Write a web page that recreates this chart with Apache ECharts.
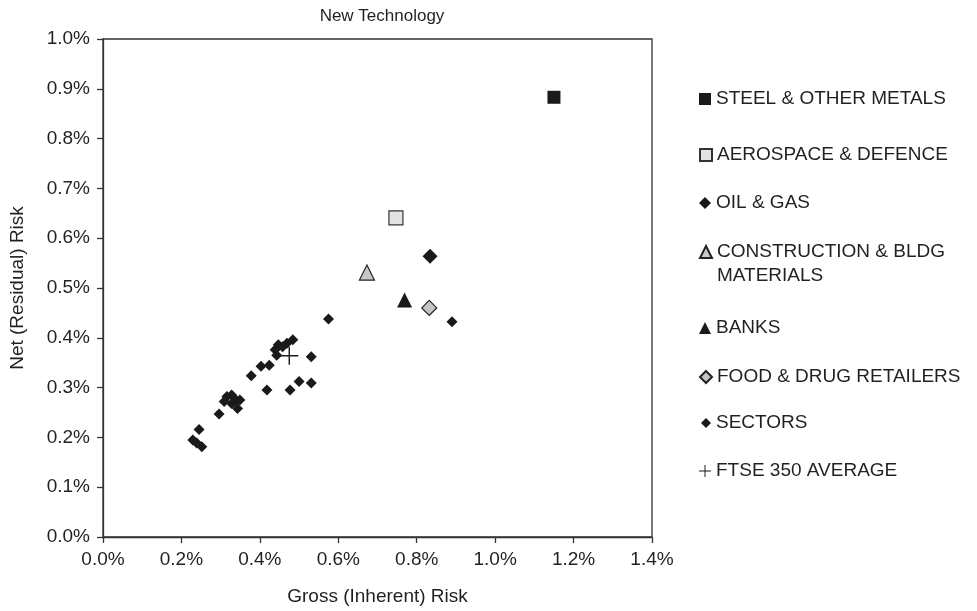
<!DOCTYPE html>
<html><head><meta charset="utf-8">
<script src="https://cdn.jsdelivr.net/npm/echarts@6/dist/echarts.min.js"></script>
<style>html,body{margin:0;padding:0;background:#fff}#c{width:977px;height:611px}</style>
</head><body><div id="c"></div>
<script>
// Values in percent
var xTicks = [0.0, 0.2, 0.4, 0.6, 0.8, 1.0, 1.2, 1.4];
var yTicks = [0.0, 0.1, 0.2, 0.3, 0.4, 0.5, 0.6, 0.7, 0.8, 0.9, 1.0];
var seriesNames = ['STEEL & OTHER METALS','AEROSPACE & DEFENCE','OIL & GAS','CONSTRUCTION & BLDG\nMATERIALS','BANKS','FOOD & DRUG RETAILERS','SECTORS','FTSE 350 AVERAGE'];
var steel = [[1.15, 0.883]];
var aerospace = [[0.747, 0.641]];
var oilGas = [[0.834, 0.564]];
var construction = [[0.673, 0.531]];
var banks = [[0.769, 0.476]];
var food = [[0.832, 0.460]];
var sectors = [
  [0.575,0.438],[0.484,0.396],[0.469,0.389],[0.447,0.386],[0.458,0.382],[0.439,0.376],[0.443,0.365],
  [0.531,0.362],[0.424,0.345],[0.403,0.343],[0.378,0.324],[0.418,0.295],[0.477,0.295],[0.500,0.312],
  [0.531,0.309],[0.316,0.282],[0.328,0.285],[0.309,0.272],[0.339,0.275],[0.349,0.275],[0.343,0.258],
  [0.328,0.268],[0.296,0.247],[0.245,0.216],[0.229,0.195],[0.239,0.189],[0.252,0.181],[0.890,0.432]
];
var ftse = [[0.475, 0.364]];

var FONT = '"Liberation Sans", Arial, Helvetica, sans-serif';
var TXT = '#231f20';
var PLUS = 'path://M0,9.2h20v1.6h-20z M9.2,0h1.6v20h-1.6z';

var styles = [
  {symbol:'rect', size:13, color:'#1a1a1a', border:'#1a1a1a', bw:0, lsize:12},
  {symbol:'rect', size:14, color:'#e3e3e3', border:'#333', bw:1.2, lsize:12},
  {symbol:'diamond', size:15, color:'#1a1a1a', border:'#1a1a1a', bw:0, lsize:12},
  {symbol:'triangle', size:15, color:'#c8c8c8', border:'#222', bw:1.2, lsize:12},
  {symbol:'triangle', size:15, color:'#1a1a1a', border:'#1a1a1a', bw:0, lsize:12},
  {symbol:'diamond', size:15, color:'#c4c4c4', border:'#222', bw:1.2, lsize:12},
  {symbol:'diamond', size:11, color:'#1a1a1a', border:'#1a1a1a', bw:0, lsize:10},
  {symbol:PLUS, size:18, color:'#1a1a1a', border:'#1a1a1a', bw:0, lsize:12}
];
var dataSets = [steel, aerospace, oilGas, construction, banks, food, sectors, ftse];
var legendCenters = [99, 155, 203, 252, 328, 377, 423, 471];

var series = dataSets.map(function(d, i){
  var s = styles[i];
  return {
    name: seriesNames[i], type:'scatter', data:d, symbol:s.symbol, symbolSize:s.size,
    itemStyle:{color:s.color, borderColor:s.border, borderWidth:s.bw, opacity:1},
    z: i===7 ? 10 : 5
  };
});

var legends = seriesNames.map(function(n, i){
  var s = styles[i];
  var two = n.indexOf('\n') >= 0;
  var ts = {fontFamily:FONT, fontSize:19, color:TXT, lineHeight:24};
  var cfg = {
    show:true, data:[n], orient:'vertical', left:699 + (12 - s.lsize), top:legendCenters[i] - 12,
    itemWidth:s.lsize, itemHeight:s.lsize, itemGap:0, textStyle:ts,
    selectedMode:false, padding:0
  };
  if (two) {
    // blank first line so that the icon lines up with the first text line
    cfg.formatter = function(name){ return ' \n' + name; };
    cfg.top = legendCenters[i] - 36;
  }
  return cfg;
});

var chart = echarts.init(document.getElementById('c'), null, {renderer:'canvas'});
chart.setOption({
  backgroundColor:'#fff',
  animation:false,
  title:{text:'New Technology', left:377, top:3, textAlign:'center',
    textStyle:{fontFamily:FONT, fontSize:17, fontWeight:'normal', color:TXT}},
  grid:{left:103, right:325, top:39, bottom:74, show:true, borderColor:'#333', borderWidth:1.3, backgroundColor:'transparent'},
  xAxis:{type:'value', min:xTicks[0], max:xTicks[xTicks.length-1], interval:0.2,
    name:'Gross (Inherent) Risk', nameLocation:'middle', nameGap:50,
    nameTextStyle:{fontFamily:FONT, fontSize:19, color:TXT},
    axisLine:{show:true, lineStyle:{color:'#333', width:1.3}},
    axisTick:{show:true, length:6, lineStyle:{color:'#333', width:1.3}},
    splitLine:{show:false},
    axisLabel:{fontFamily:FONT, fontSize:19, color:TXT, margin:13,
      formatter:function(v){ return v.toFixed(1)+'%'; }}
  },
  yAxis:{type:'value', min:yTicks[0], max:yTicks[yTicks.length-1], interval:0.1,
    name:'Net (Residual) Risk', nameLocation:'middle', nameGap:76, nameRotate:90,
    nameTextStyle:{fontFamily:FONT, fontSize:19, color:TXT},
    axisLine:{show:true, lineStyle:{color:'#333', width:1.3}},
    axisTick:{show:true, length:6, lineStyle:{color:'#333', width:1.3}},
    splitLine:{show:false},
    axisLabel:{fontFamily:FONT, fontSize:19, color:TXT, margin:13,
      formatter:function(v){ return v.toFixed(1)+'%'; }}
  },
  legend: legends,
  series: series
});
</script>
</body></html>
